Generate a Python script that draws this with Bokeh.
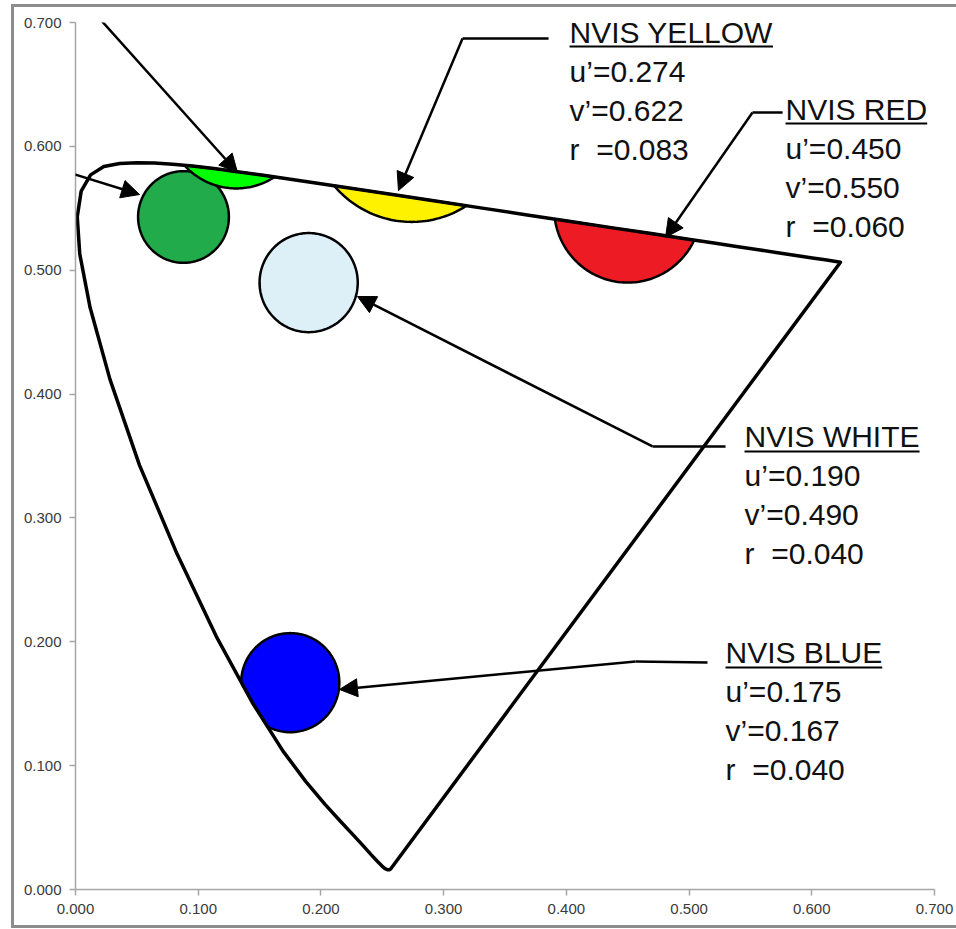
from bokeh.plotting import figure
from bokeh.models import (Range1d, FixedTicker, Arrow, NormalHead, LabelSet, ColumnDataSource)
from bokeh.core.properties import value
from bokeh.embed import file_html
from bokeh.resources import INLINE
import math

# ---------------- data ----------------
# CIE 1931 2-degree spectral locus chromaticities (x, y), 380-700 nm
wavelengths = [380, 400, 410, 420, 425, 430, 435, 440, 445, 450, 455, 460, 465, 470, 475,
               480, 485, 490, 495, 500, 505, 510, 515, 520, 525, 530, 535, 540, 545, 550,
               555, 560, 565, 570, 575, 580, 585, 590, 595, 600, 605, 610, 615, 620, 625,
               630, 635, 640, 650, 660, 680, 700]
cie_x = [0.1741, 0.1733, 0.1726, 0.1714, 0.1703, 0.1689, 0.1669, 0.1644, 0.1611, 0.1566,
         0.1510, 0.1440, 0.1355, 0.1241, 0.1096, 0.0913, 0.0687, 0.0454, 0.0235, 0.0082,
         0.0039, 0.0139, 0.0389, 0.0743, 0.1142, 0.1547, 0.1929, 0.2296, 0.2658, 0.3016,
         0.3373, 0.3731, 0.4087, 0.4441, 0.4788, 0.5125, 0.5448, 0.5752, 0.6029, 0.6270,
         0.6482, 0.6658, 0.6801, 0.6915, 0.7006, 0.7079, 0.7140, 0.7190, 0.7260, 0.7300,
         0.7347, 0.7347]
cie_y = [0.0050, 0.0048, 0.0048, 0.0051, 0.0058, 0.0069, 0.0086, 0.0109, 0.0138, 0.0177,
         0.0227, 0.0297, 0.0399, 0.0578, 0.0868, 0.1327, 0.2007, 0.2950, 0.4127, 0.5384,
         0.6548, 0.7502, 0.8120, 0.8338, 0.8262, 0.8059, 0.7816, 0.7543, 0.7243, 0.6923,
         0.6589, 0.6245, 0.5896, 0.5547, 0.5202, 0.4866, 0.4544, 0.4242, 0.3965, 0.3725,
         0.3514, 0.3340, 0.3197, 0.3083, 0.2993, 0.2920, 0.2859, 0.2809, 0.2740, 0.2700,
         0.2653, 0.2653]

names = ["NVIS GREEN A", "NVIS GREEN B", "NVIS YELLOW", "NVIS RED", "NVIS WHITE", "NVIS BLUE"]
u_c = [0.088, 0.131, 0.274, 0.450, 0.190, 0.175]
v_c = [0.543, 0.623, 0.622, 0.550, 0.490, 0.167]
r_c = [0.037, 0.057, 0.083, 0.060, 0.040, 0.040]
colors = ["#22ab4b", "#00ff00", "#fff200", "#ed1c24", "#ddeff7", "#0000ff"]

tick_values = [0.0, 0.1, 0.2, 0.3, 0.4, 0.5, 0.6, 0.7]
tick_labels = ["0.000", "0.100", "0.200", "0.300", "0.400", "0.500", "0.600", "0.700"]

# ---------------- layout (annotation placement, data units) ----------------
PX_U = 0.7 / 859.0
PX_V = 0.7 / 867.0
label_names = ["NVIS YELLOW", "NVIS RED", "NVIS WHITE", "NVIS BLUE"]
label_pos = {"NVIS YELLOW": (0.4026, 0.6838), "NVIS RED": (0.5786, 0.6216),
             "NVIS WHITE": (0.5452, 0.3569), "NVIS BLUE": (0.5297, 0.1825)}
leaders = {
    "NVIS GREEN A": [(-0.0693, 0.5930), (-0.0513, 0.5930), (0.0522, 0.5611)],
    "NVIS GREEN B": [(-0.0155, 0.7420), (0.1320, 0.5789)],
    "NVIS YELLOW": [(0.3855, 0.6871), (0.3154, 0.6871), (0.2632, 0.5643)],
    "NVIS RED": [(0.5762, 0.6273), (0.5517, 0.6273), (0.4808, 0.5264)],
    "NVIS WHITE": [(0.5297, 0.3577), (0.4702, 0.3577), (0.2298, 0.4788)],
    "NVIS BLUE": [(0.5150, 0.1833), (0.4564, 0.1841), (0.2151, 0.1615)],
}
FONT = "Liberation Sans"
FSIZE = 30
LINE_PX = 39
# Arial/Liberation advance widths (per 1000 em) for heading underline length
adv = {"N": 722, "V": 667, "I": 278, "S": 667, " ": 278, "Y": 667, "E": 667, "L": 556,
       "O": 778, "W": 944, "R": 722, "D": 722, "H": 722, "T": 611, "B": 667, "U": 722,
       "A": 667, "G": 778}

# ---------------- figure ----------------
p = figure(width=956, height=929, x_range=Range1d(0, 0.7), y_range=Range1d(0, 0.7),
           output_backend="svg", toolbar_location=None,
           min_border_left=75, min_border_right=22, min_border_top=22, min_border_bottom=40)
p.styles = {
    "background-color": "#ffffff",
    "box-shadow": "inset 8.5px 1.5px 0 2.5px #ffffff, inset 8.5px 1.5px 0 5.5px #8c8c8c",
}
p.grid.visible = False
p.outline_line_color = None
p.background_fill_color = "white"
p.border_fill_color = None

for ax in (p.xaxis[0], p.yaxis[0]):
    ax.ticker = FixedTicker(ticks=tick_values)
    ax.major_label_overrides = {t: s for t, s in zip(tick_values, tick_labels)}
    ax.axis_line_color = "#a6a6a6"
    ax.axis_line_width = 1.5
    ax.major_tick_line_color = "#a6a6a6"
    ax.major_tick_line_width = 1.5
    ax.minor_tick_line_color = None
    ax.major_tick_out = 6
    ax.major_tick_in = 0
    ax.major_label_text_font = FONT
    ax.major_label_text_font_size = "15px"
    ax.major_label_text_color = "#3a3a3a"
    ax.major_label_standoff = 8

# spectral locus in CIE 1976 u'v'
loc_u = [4 * x / (-2 * x + 12 * y + 3) for x, y in zip(cie_x, cie_y)]
loc_v = [9 * y / (-2 * x + 12 * y + 3) for x, y in zip(cie_x, cie_y)]
locus = list(zip(loc_u, loc_v))


def clip_to_convex(subject, clip):
    """Sutherland-Hodgman: subject polygon clipped by convex CCW polygon."""
    out = list(subject)
    n = len(clip)
    for i in range(n):
        ax_, ay_ = clip[i]
        bx_, by_ = clip[(i + 1) % n]
        ex, ey = bx_ - ax_, by_ - ay_
        inp, out = out, []
        if not inp:
            break

        def side(pt):
            return ex * (pt[1] - ay_) - ey * (pt[0] - ax_)

        s = inp[-1]
        for e in inp:
            se, ss = side(e), side(s)
            if se >= 0:
                if ss < 0:
                    t = ss / (ss - se)
                    out.append((s[0] + t * (e[0] - s[0]), s[1] + t * (e[1] - s[1])))
                out.append(e)
            elif ss >= 0:
                t = ss / (ss - se)
                out.append((s[0] + t * (e[0] - s[0]), s[1] + t * (e[1] - s[1])))
            s = e
    return out


# circles clipped to the gamut (intersection of circle and locus)
NSEG = 240
pxs, pys = [], []
for cu, cv, r in zip(u_c, v_c, r_c):
    circ = [(cu + r * math.cos(2 * math.pi * k / NSEG), cv + r * math.sin(2 * math.pi * k / NSEG))
            for k in range(NSEG)]
    poly = clip_to_convex(locus, circ)
    pxs.append([q[0] for q in poly])
    pys.append([q[1] for q in poly])

p.patches(xs=pxs, ys=pys, fill_color=colors, line_color="black", line_width=2.5,
          line_join="round")

# locus outline
p.line(loc_u + [loc_u[0]], loc_v + [loc_v[0]], line_color="black", line_width=3.5,
       line_join="round", line_cap="round")

# text blocks
tx, ty, tt = [], [], []
ux0, ux1, uy = [], [], []
for nm in label_names:
    i = names.index(nm)
    x0, y0 = label_pos[nm]
    lines = [nm, "u\u2019=%.3f" % u_c[i], "v\u2019=%.3f" % v_c[i], "r\u00a0 =%.3f" % r_c[i]]
    for k, s in enumerate(lines):
        tx.append(x0)
        ty.append(y0 - k * LINE_PX * PX_V)
        tt.append(s)
    w = sum(adv.get(c, 600) for c in nm) / 1000.0 * FSIZE
    ux0.append(x0)
    ux1.append(x0 + w * PX_U)
    uy.append(y0 - 4 * PX_V)

p.segment(x0=ux0, y0=uy, x1=ux1, y1=uy, line_color="black", line_width=2)
lab = LabelSet(x="x", y="y", text="text", source=ColumnDataSource(dict(x=tx, y=ty, text=tt)),
               text_font=value(FONT), text_font_size=value("%dpx" % FSIZE),
               text_color="#111111", text_baseline="alphabetic", text_align="left")
p.add_layout(lab)

# leader lines with arrow heads
for nm, pts in leaders.items():
    for j in range(len(pts) - 1):
        last = (j == len(pts) - 2)
        head = NormalHead(size=18, fill_color="black", line_color="black", line_width=1) if last else None
        p.add_layout(Arrow(x_start=pts[j][0], y_start=pts[j][1], x_end=pts[j + 1][0],
                           y_end=pts[j + 1][1], end=head, line_color="black", line_width=2.5))

open("out.html", "w").write(file_html(p, INLINE))
